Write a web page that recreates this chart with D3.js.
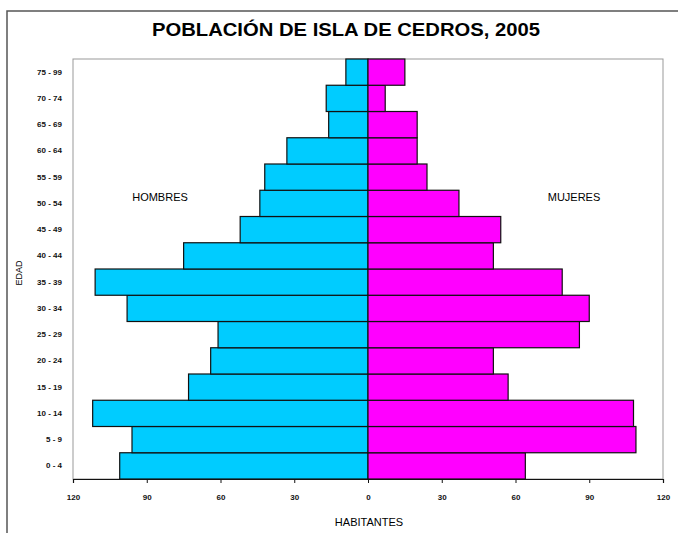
<!DOCTYPE html>
<html><head><meta charset="utf-8">
<script src="https://cdn.jsdelivr.net/npm/d3@7"></script>
<style>body{margin:0;background:#fff}svg{display:block}text{font-family:"Liberation Sans",Arial,sans-serif}</style>
</head><body>
<script>
const categories = ["0 - 4","5 - 9","10 - 14","15 - 19","20 - 24","25 - 29","30 - 34","35 - 39","40 - 44","45 - 49","50 - 54","55 - 59","60 - 64","65 - 69","70 - 74","75 - 99"];
const hombres = [101, 96, 112, 73, 64, 61, 98, 111, 75, 52, 44, 42, 33, 16, 17, 9];
const mujeres = [64, 109, 108, 57, 51, 86, 90, 79, 51, 54, 37, 24, 20, 20, 7, 15];
const xTicks = [-120, -90, -60, -30, 0, 30, 60, 90, 120];
const title = "POBLACIÓN DE ISLA DE CEDROS, 2005";

const W = 678, H = 533;
const svg = d3.select("body").append("svg").attr("width", W).attr("height", H);

// outer frame
svg.append("path").attr("d", `M7,${H} L7,11 L${W},11`).attr("fill","none").attr("stroke","#555").attr("stroke-width",1.5);

const pL = 73, pR = 663, pT = 59, pB = 479;
const x = d3.scaleLinear().domain([-120, 120]).range([pL, pR]);
const y = d3.scaleBand().domain(categories.slice().reverse()).range([pT, pB]).padding(0);

// plot border
svg.append("rect").attr("x", pL).attr("y", pT).attr("width", pR-pL).attr("height", pB-pT)
  .attr("fill","none").attr("stroke","#999").attr("stroke-width",1);

// bars
svg.append("g").selectAll("rect").data(categories).join("rect")
  .attr("x", (d,i) => x(-hombres[i])).attr("y", d => y(d))
  .attr("width", (d,i) => x(0) - x(-hombres[i])).attr("height", y.bandwidth())
  .attr("fill","#00CCFF").attr("stroke","#111").attr("stroke-width",1.2);
svg.append("g").selectAll("rect").data(categories).join("rect")
  .attr("x", x(0)).attr("y", d => y(d))
  .attr("width", (d,i) => x(mujeres[i]) - x(0)).attr("height", y.bandwidth())
  .attr("fill","#FF00FF").attr("stroke","#111").attr("stroke-width",1.2);

// x axis
const xa = svg.append("g").attr("transform", `translate(0,${pB})`)
  .call(d3.axisBottom(x).tickValues(xTicks).tickSize(4).tickPadding(11).tickFormat(d => Math.abs(d)));
xa.select(".domain").attr("stroke","#111").attr("stroke-width",1.2);
xa.selectAll(".tick line").attr("stroke","#111");
xa.selectAll("text").attr("font-size", 8).attr("font-weight","bold").attr("fill","#111");

// y axis labels
const ya = svg.append("g").attr("transform", `translate(${pL},0)`)
  .call(d3.axisLeft(y).tickSize(0).tickPadding(11));
ya.select(".domain").remove();
ya.selectAll("text").attr("font-size", 8).attr("font-weight","bold").attr("fill","#111");

// titles
svg.append("text").attr("x", 346).attr("y", 36).attr("text-anchor","middle")
  .attr("font-size", 18).attr("font-weight","bold").attr("fill","#000")
  .attr("textLength", 388).attr("lengthAdjust","spacingAndGlyphs").text(title);
svg.append("text").attr("x", 369).attr("y", 526).attr("text-anchor","middle")
  .attr("font-size", 11).attr("fill","#000").text("HABITANTES");
svg.append("text").attr("transform","translate(22,273) rotate(-90)").attr("text-anchor","middle")
  .attr("font-size", 9).attr("fill","#000").text("EDAD");
svg.append("text").attr("x", 160).attr("y", 201).attr("text-anchor","middle")
  .attr("font-size", 11).attr("fill","#000").text("HOMBRES");
svg.append("text").attr("x", 574).attr("y", 201).attr("text-anchor","middle")
  .attr("font-size", 11).attr("fill","#000").text("MUJERES");
</script>
</body></html>
